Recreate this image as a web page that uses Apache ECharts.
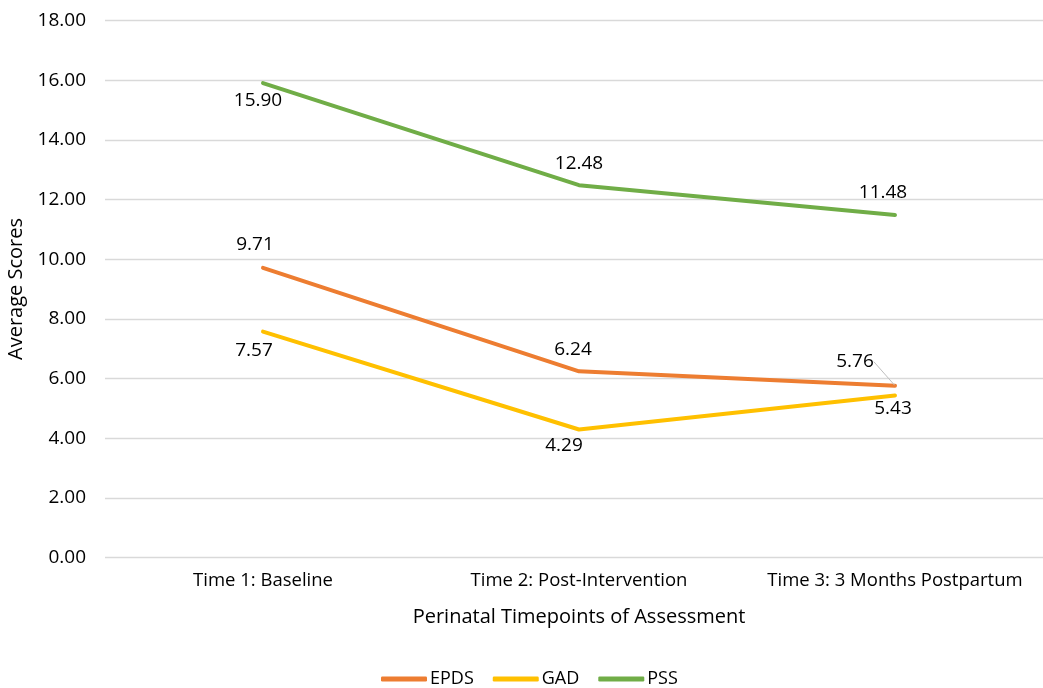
<!DOCTYPE html>
<html><head><meta charset="utf-8">
<script src="https://cdn.jsdelivr.net/npm/echarts@6/dist/echarts.min.js"></script>
<style>html,body{margin:0;padding:0;background:#fff}#c{width:1043px;height:688px}</style>
</head><body><div id="c"></div>
<script>
const categories = ['Time 1: Baseline', 'Time 2: Post-Intervention', 'Time 3: 3 Months Postpartum'];
const epds = [9.71, 6.24, 5.76];
const gad = [7.57, 4.29, 5.43];
const pss = [15.90, 12.48, 11.48];
const seriesNames = ['EPDS', 'GAD', 'PSS'];
const colors = ['#ED7D31', '#FFC000', '#70AD47'];

const FONT = '"Open Sans", sans-serif';
// label placement per point: [position, offsetX, offsetY]
const labelPlace = {
  EPDS: [['top', -8, -8], ['top', -6, -7], ['top', -40, -9]],
  GAD: [['bottom', -9, 4], ['bottom', -15, 1], ['bottom', -2, -2]],
  PSS: [['bottom', -5, 2], ['top', 0, -7], ['top', -12, -7]]
};

function mkData(name, vals) {
  return vals.map((v, i) => {
    const p = labelPlace[name][i];
    const d = { value: v, label: { position: p[0] } };
    if (name !== 'EPDS') d.label.offset = [p[1], p[2]];
    if (name === 'EPDS' && i === 2) {
      d.labelLine = { show: true, lineStyle: { color: '#bfbfbf', width: 1 } };
    }
    return d;
  });
}

const valsBy = { EPDS: epds, GAD: gad, PSS: pss };
const series = seriesNames.map((n, k) => ({
  name: n,
  type: 'line',
  data: mkData(n, valsBy[n]),
  symbol: 'circle',
  symbolSize: 1,
  showSymbol: true,
  lineStyle: { width: 4, color: colors[k], cap: 'round', join: 'round' },
  itemStyle: { color: colors[k] },
  label: {
    show: true,
    formatter: p => Number(p.value).toFixed(2),
    fontFamily: FONT, fontSize: 19, color: '#000'
  },
  labelLine: { show: false },
  labelLayout: n === 'EPDS'
    ? (params => ({ dx: labelPlace.EPDS[params.dataIndex][1], dy: labelPlace.EPDS[params.dataIndex][2] }))
    : undefined,
  z: 3 - k
}));

const chart = echarts.init(document.getElementById('c'), null, { renderer: 'canvas' });
chart.setOption({
  animation: false,
  backgroundColor: '#fff',
  grid: { left: 105, right: -10, top: 20.5, bottom: 130.5, containLabel: false, outerBoundsMode: 'none' },
  xAxis: {
    type: 'category',
    data: categories,
    boundaryGap: true,
    axisLine: { show: false },
    axisTick: { show: false },
    axisLabel: { fontFamily: FONT, fontSize: 18.5, color: '#000', margin: 14, interval: 0, hideOverlap: false },
    name: 'Perinatal Timepoints of Assessment',
    nameLocation: 'middle',
    nameGap: 50,
    nameTextStyle: { fontFamily: FONT, fontSize: 20, color: '#000' }
  },
  yAxis: {
    type: 'value',
    min: 0, max: 18, interval: 2,
    axisLine: { show: false },
    axisTick: { show: false },
    splitLine: { lineStyle: { color: '#d9d9d9', width: 1.3 } },
    axisLabel: { fontFamily: FONT, fontSize: 19, color: '#000', margin: 19, formatter: v => v.toFixed(2) },
    name: 'Average Scores',
    nameLocation: 'middle',
    nameGap: 76,
    nameTextStyle: { fontFamily: FONT, fontSize: 20, color: '#000' }
  },
  legend: {
    bottom: -5,
    left: 376,
    icon: 'roundRect',
    itemWidth: 46,
    itemHeight: 5,
    itemGap: 19,
    textStyle: { fontFamily: FONT, fontSize: 18, color: '#000', padding: [0, 0, 0, -2] },
    data: seriesNames
  },
  series: series
});
</script></body></html>
